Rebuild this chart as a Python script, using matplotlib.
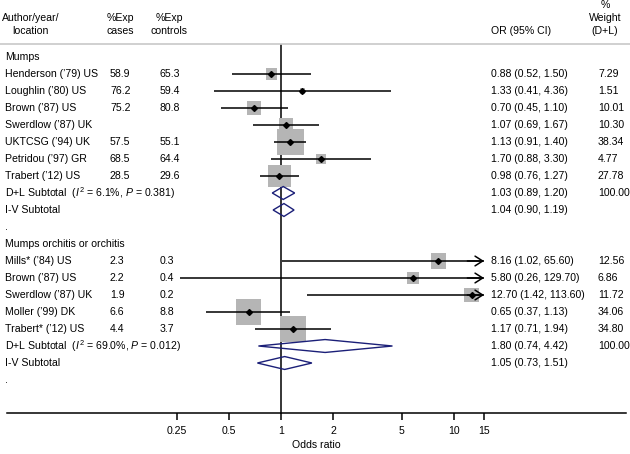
import numpy as np
import matplotlib
matplotlib.use('Agg')
import matplotlib.pyplot as plt
from matplotlib.lines import Line2D
from matplotlib.patches import Polygon, Rectangle
import matplotlib.transforms as mtransforms

plt.rcParams['font.family'] = ['Liberation Sans', 'DejaVu Sans']
plt.rcParams['mathtext.fontset'] = 'custom'
plt.rcParams['mathtext.rm'] = 'Liberation Sans'
plt.rcParams['mathtext.it'] = 'Liberation Sans:italic'

# ---------------- data ----------------
group_names = ['Mumps', 'Mumps orchitis or orchitis']

g1_studies = ["Henderson (’79) US", "Loughlin (’80) US", "Brown (’87) US", "Swerdlow (’87) UK",
              "UKTCSG (’94) UK", "Petridou (’97) GR", "Trabert (’12) US"]
g1_cases = ['58.9', '76.2', '75.2', '', '57.5', '68.5', '28.5']
g1_controls = ['65.3', '59.4', '80.8', '', '55.1', '64.4', '29.6']
g1_or = [0.88, 1.33, 0.70, 1.07, 1.13, 1.70, 0.98]
g1_lo = [0.52, 0.41, 0.45, 0.69, 0.91, 0.88, 0.76]
g1_hi = [1.50, 4.36, 1.10, 1.67, 1.40, 3.30, 1.27]
g1_w = [7.29, 1.51, 10.01, 10.30, 38.34, 4.77, 27.78]
g1_dl = [1.03, 0.89, 1.20]
g1_iv = [1.04, 0.90, 1.19]
g1_i2 = '6.1%'
g1_p = '0.381'

g2_studies = ["Mills* (’84) US", "Brown (’87) US", "Swerdlow (’87) UK", "Moller (’99) DK", "Trabert* (’12) US"]
g2_cases = ['2.3', '2.2', '1.9', '6.6', '4.4']
g2_controls = ['0.3', '0.4', '0.2', '8.8', '3.7']
g2_or = [8.16, 5.80, 12.70, 0.65, 1.17]
g2_lo = [1.02, 0.26, 1.42, 0.37, 0.71]
g2_hi = [65.60, 129.70, 113.60, 1.13, 1.94]
g2_w = [12.56, 6.86, 11.72, 34.06, 34.80]
g2_dl = [1.80, 0.74, 4.42]
g2_iv = [1.05, 0.73, 1.51]
g2_i2 = '69.0%'
g2_p = '0.012'

tick_vals = [0.25, 0.5, 1, 2, 5, 10, 15]
tick_labels = ['0.25', '0.5', '1', '2', '5', '10', '15']

# ---------------- layout ----------------
W, H = 630, 454
fig = plt.figure(figsize=(W / 100, H / 100), dpi=100)
ax_left, ax_right, ax_bottom_px = 7, 626, 413
ax = fig.add_axes([ax_left / W, (H - ax_bottom_px) / H, (ax_right - ax_left) / W, ax_bottom_px / H])
ax.set_xscale('log')
px_per_ln = 75.0
null_px = 281.0
xmin = np.exp((ax_left - null_px) / px_per_ln)
xmax = np.exp((ax_right - null_px) / px_per_ln)
ax.set_xlim(xmin, xmax)
row_px, row0_px = 17.0, 57.0
ymin_v = -row0_px / row_px
ymax_v = (ax_bottom_px - row0_px) / row_px
ax.set_ylim(ymax_v, ymin_v)

for s in ['top', 'right', 'left']:
    ax.spines[s].set_visible(False)
ax.spines['bottom'].set_linewidth(1.1)
ax.set_yticks([])
ax.set_xticks(tick_vals)
ax.set_xticklabels(tick_labels)
ax.xaxis.set_minor_locator(matplotlib.ticker.NullLocator())
ax.tick_params(axis='x', direction='out', length=5, width=1.1, pad=4, labelsize=7.6)
ax.set_xlabel('Odds ratio', fontsize=7.6, labelpad=3)

fs = 7.6
tx = mtransforms.blended_transform_factory(fig.transFigure, ax.transData)
navy = '#1b1f78'
box_color = '#b5b5b5'
clip_hi = tick_vals[-1]
clip_lo = tick_vals[0]

# null line
ax.plot([1, 1], [-12 / row_px, ymax_v], color='black', lw=1.1, zorder=1, clip_on=False)

box_k = 4.36  # px per sqrt(weight)


def draw_study(y, orv, lo, hi, w):
    side = box_k * np.sqrt(w)
    hw = side / 2 / px_per_ln
    hh = side / 2 / row_px
    ax.add_patch(Rectangle((orv * np.exp(-hw), y - hh), orv * np.exp(hw) - orv * np.exp(-hw), 2 * hh,
                           facecolor=box_color, edgecolor='none', zorder=2))
    l = max(lo, clip_lo)
    h = min(hi, clip_hi)
    ax.plot([l, h], [y, y], color='black', lw=1.1, zorder=3, solid_capstyle='butt')
    if hi > clip_hi:
        ax.annotate('', xy=(clip_hi, y), xytext=(clip_hi * 0.8, y),
                    arrowprops=dict(arrowstyle='->,head_length=0.55,head_width=0.35', lw=1.1,
                                    color='black', shrinkA=0, shrinkB=0), zorder=3)
    ax.plot([orv], [y], marker='D', ms=3, color='black', zorder=4)


def draw_diamond(y, est, lo, hi):
    h = 0.38
    ax.add_patch(Polygon([(lo, y), (est, y - h), (hi, y), (est, y + h)], closed=True,
                         facecolor='none', edgecolor=navy, lw=1.0, zorder=3))


def fmt_ci(v):
    return f"{v[0]:.2f} ({v[1]:.2f}, {v[2]:.2f})"


x_name, x_cases, x_ctrl, x_ci, x_w = 5 / W, 110 / W, 160 / W, 491 / W, 598 / W

groups = [
    (group_names[0], g1_studies, g1_cases, g1_controls, g1_or, g1_lo, g1_hi, g1_w, g1_dl, g1_iv, g1_i2, g1_p),
    (group_names[1], g2_studies, g2_cases, g2_controls, g2_or, g2_lo, g2_hi, g2_w, g2_dl, g2_iv, g2_i2, g2_p),
]

y = 0
for (gname, studies, cases, ctrls, ors, los, his, ws, dl, iv, i2, p) in groups:
    ax.text(x_name, y, gname, transform=tx, ha='left', va='center', fontsize=fs)
    y += 1
    for i in range(len(studies)):
        ax.text(x_name, y, studies[i], transform=tx, ha='left', va='center', fontsize=fs)
        ax.text(x_cases, y, cases[i], transform=tx, ha='left', va='center', fontsize=fs)
        ax.text(x_ctrl, y, ctrls[i], transform=tx, ha='left', va='center', fontsize=fs)
        ax.text(x_ci, y, fmt_ci([ors[i], los[i], his[i]]), transform=tx, ha='left', va='center', fontsize=fs)
        ax.text(x_w, y, f"{ws[i]:.2f}", transform=tx, ha='left', va='center', fontsize=fs)
        draw_study(y, ors[i], los[i], his[i], ws[i])
        y += 1
    ax.text(x_name, y, r"D+L Subtotal  ($\it{I}^2$ = " + i2 + r", $\it{P}$ = " + p + ")",
            transform=tx, ha='left', va='center', fontsize=fs)
    ax.text(x_ci, y, fmt_ci(dl), transform=tx, ha='left', va='center', fontsize=fs)
    ax.text(x_w, y, f"{sum(ws):.2f}", transform=tx, ha='left', va='center', fontsize=fs)
    draw_diamond(y, *dl)
    y += 1
    ax.text(x_name, y, 'I-V Subtotal', transform=tx, ha='left', va='center', fontsize=fs)
    ax.text(x_ci, y, fmt_ci(iv), transform=tx, ha='left', va='center', fontsize=fs)
    draw_diamond(y, *iv)
    y += 1
    ax.text(x_name, y, '.', transform=tx, ha='left', va='center', fontsize=fs)
    y += 1

# headers
def ftext(xp, yp, s, ha='left'):
    fig.text(xp / W, 1 - yp / H, s, ha=ha, va='center', fontsize=fs)

ftext(2, 18, 'Author/year/')
ftext(30, 31, 'location', ha='center')
ftext(120, 18, '%Exp', ha='center')
ftext(120, 31, 'cases', ha='center')
ftext(169, 18, '%Exp', ha='center')
ftext(169, 31, 'controls', ha='center')
ftext(491, 31, 'OR (95% CI)')
ftext(605, 5, '%', ha='center')
ftext(605, 18, 'Weight', ha='center')
ftext(605, 31, '(D+L)', ha='center')

fig.add_artist(Line2D([0, 1], [1 - 44 / H, 1 - 44 / H], transform=fig.transFigure, color='#c8c8c8', lw=1.2))

fig.savefig('out.png', dpi=100)
